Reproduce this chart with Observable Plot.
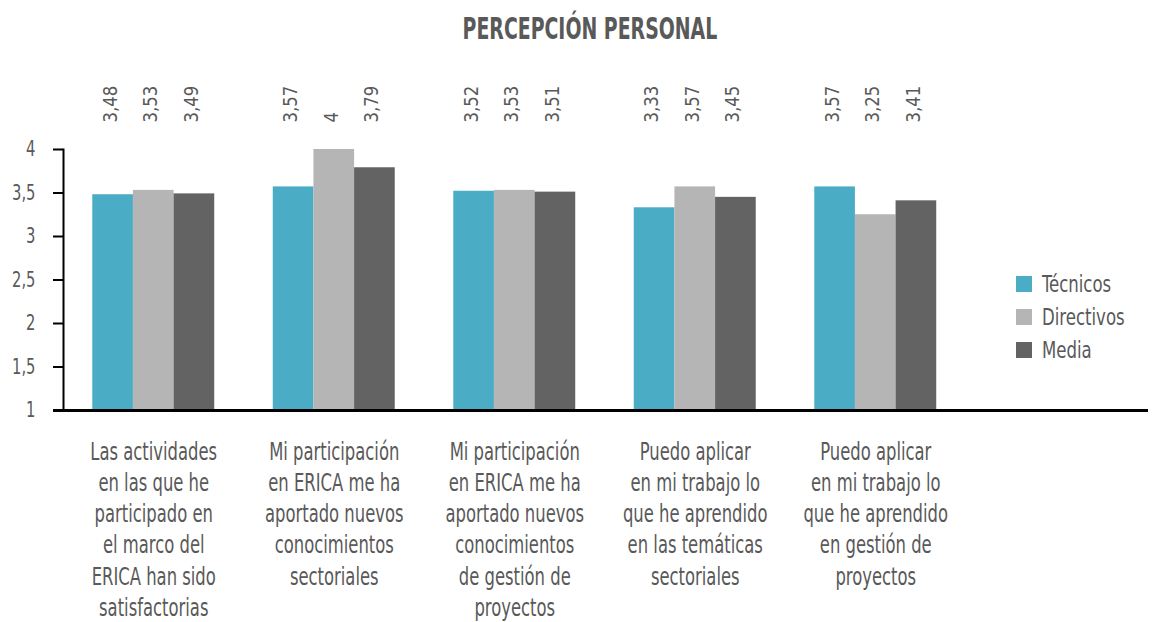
<!DOCTYPE html>
<html>
<head>
<meta charset="utf-8">
<script src="https://cdn.jsdelivr.net/npm/d3@7"></script>
<script src="https://cdn.jsdelivr.net/npm/@observablehq/plot@0.6"></script>
<style>
  body { margin: 0; background: #fff; }
  #wrap { position: relative; width: 1160px; height: 622px; font-family: "DejaVu Sans Condensed", "Liberation Sans Narrow", "Roboto", sans-serif; font-stretch: condensed; color: #595959; overflow: hidden; }
  #title { height: 60px; line-height: 58px; text-align: center; font-weight: bold; font-size: 30px; padding-left: 20px; box-sizing: border-box; }
  #title span { display: inline-block; transform: scaleX(0.70); transform-origin: center; }
  #legend { position: absolute; left: 1016px; top: 267px; }
  #legend .row { display: flex; align-items: center; height: 33px; font-size: 23px; }
  #legend .sw { width: 16px; height: 16px; margin-right: 10px; flex: none; }
  #legend .lab { display: inline-block; transform: scaleX(0.8); transform-origin: left center; white-space: nowrap; }
</style>
</head>
<body>
<div id="wrap">
  <div id="title"><span></span></div>
  <div id="chart"></div>
  <div id="legend"></div>
</div>
<script>
const title = "PERCEPCIÓN PERSONAL";
const categories = [
  "Las actividades\nen las que he\nparticipado en\nel marco del\nERICA han sido\nsatisfactorias",
  "Mi participación\nen ERICA me ha\naportado nuevos\nconocimientos\nsectoriales",
  "Mi participación\nen ERICA me ha\naportado nuevos\nconocimientos\nde gestión de\nproyectos",
  "Puedo aplicar\nen mi trabajo lo\nque he aprendido\nen las temáticas\nsectoriales",
  "Puedo aplicar\nen mi trabajo lo\nque he aprendido\nen gestión de\nproyectos"
];
const series = ["Técnicos", "Directivos", "Media"];
const tecnicos = [3.48, 3.57, 3.52, 3.33, 3.57];
const directivos = [3.53, 4, 3.53, 3.57, 3.25];
const media = [3.49, 3.79, 3.51, 3.45, 3.41];
const colors = ["#4BACC6", "#B5B5B5", "#636363"];
const yTicks = [1, 1.5, 2, 2.5, 3, 3.5, 4];

const values = [tecnicos, directivos, media];
const data = [];
categories.forEach((c, i) => series.forEach((s, j) => data.push({category: c, series: s, value: values[j][i]})));

const fmt = d => String(d).replace(".", ",");
const font = '"DejaVu Sans Condensed", "Liberation Sans Narrow", "Roboto", sans-serif';
const textColor = "#595959";

document.querySelector("#title span").textContent = title;

const chart = Plot.plot({
  width: 1160,
  height: 562,
  marginLeft: 63,
  marginRight: 0,
  marginTop: 89,
  marginBottom: 212,
  style: {fontFamily: font, color: textColor, background: "white", fontStretch: "condensed"},
  fx: {domain: [...categories, " "], range: [63, 1146], padding: 0, round: false, label: null},
  x: {domain: series, paddingInner: 0, paddingOuter: 0.72, round: false, axis: null},
  y: {domain: [1, 4], label: null},
  color: {domain: series, range: colors},
  marks: [
    Plot.barY(data, {fx: "category", x: "series", y1: 1, y2: "value", fill: "series"}),
    Plot.text(data, {fx: "category", x: "series", text: d => fmt(d.value), frameAnchor: "top", dy: -27, dx: -3, rotate: -90, textAnchor: "start", lineAnchor: "middle", fontSize: 20, fill: textColor}),
    Plot.axisY({ticks: yTicks, tickFormat: fmt, tickSize: 10, tickPadding: 18, fontSize: 21, stroke: "#000", strokeWidth: 2, fill: textColor, label: null}),
    Plot.axisFx({anchor: "bottom", tickSize: 0, tickPadding: 27, fontSize: 25, lineHeight: 1.25, lineAnchor: "top", fill: textColor, label: null}),
    Plot.frame({anchor: "bottom", facet: "super", insetLeft: -9, stroke: "#000", strokeWidth: 3}),
    Plot.frame({anchor: "left", facet: "super", stroke: "#000", strokeWidth: 2})
  ]
});

// condense text horizontally to mimic the narrow typeface of the original
function squeeze(selector, s) {
  chart.querySelectorAll(selector).forEach(t => {
    const tr = t.getAttribute("transform");
    if (tr) {
      t.setAttribute("transform", tr + ` scale(${s},1)`);
    } else {
      const x = +t.getAttribute("x") || 0, y = +t.getAttribute("y") || 0;
      t.removeAttribute("x"); t.removeAttribute("y");
      t.setAttribute("transform", `translate(${x},${y}) scale(${s},1)`);
    }
  });
}
squeeze('g[aria-label="fx-axis tick label"] text', 0.73);
squeeze('g[aria-label="y-axis tick label"] text', 0.78);
squeeze('g[aria-label="text"] text', 0.92);

document.getElementById("chart").appendChild(chart);

const legend = document.getElementById("legend");
series.forEach((s, i) => {
  const row = document.createElement("div");
  row.className = "row";
  const sw = document.createElement("div");
  sw.className = "sw";
  sw.style.background = colors[i];
  const lab = document.createElement("span");
  lab.className = "lab";
  lab.textContent = s;
  row.appendChild(sw);
  row.appendChild(lab);
  legend.appendChild(row);
});
</script>
</body>
</html>
